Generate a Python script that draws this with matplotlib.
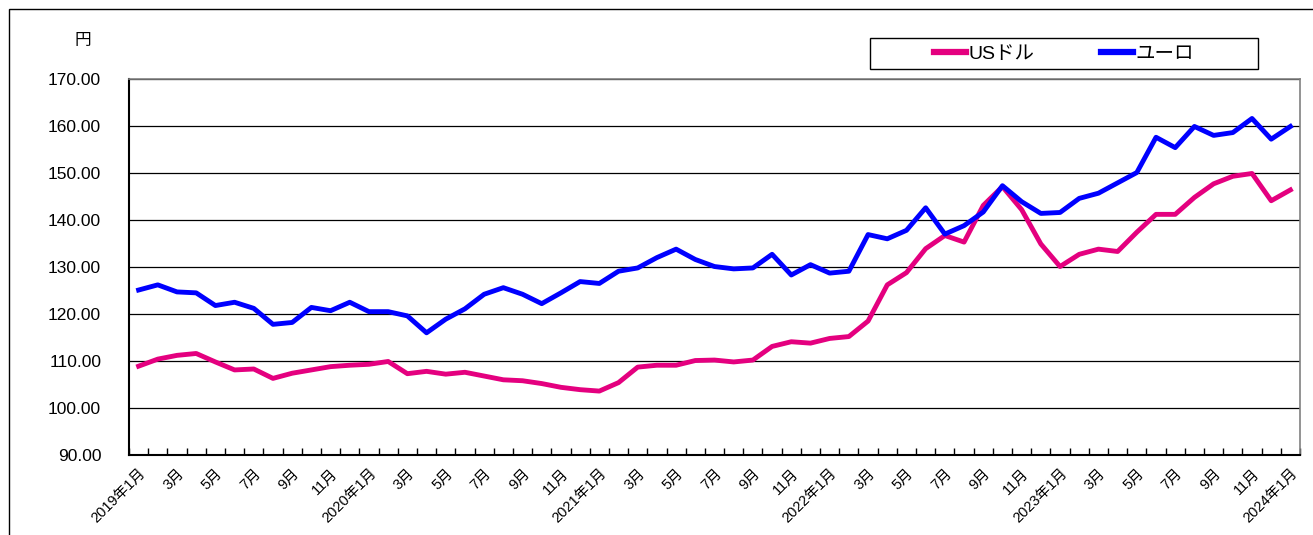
import matplotlib
matplotlib.use("Agg")
import matplotlib.pyplot as plt
from matplotlib.patches import Rectangle
from matplotlib.ticker import FixedLocator, NullFormatter

plt.rcParams['font.family'] = ['Liberation Sans', 'Noto Sans CJK JP']

# monthly values, 2019年1月 .. 2024年1月
usd = [108.9, 110.4, 111.2, 111.6, 109.8, 108.1, 108.3, 106.3, 107.4, 108.1, 108.8, 109.1,
       109.3, 109.9, 107.3, 107.8, 107.2, 107.6, 106.8, 106.0, 105.8, 105.2, 104.4, 103.9,
       103.6, 105.4, 108.7, 109.1, 109.1, 110.1, 110.2, 109.8, 110.2, 113.1, 114.1, 113.8,
       114.8, 115.2, 118.5, 126.2, 128.8, 133.9, 136.7, 135.3, 143.1, 147.1, 142.2, 134.9,
       130.1, 132.7, 133.8, 133.3, 137.4, 141.2, 141.2, 144.8, 147.7, 149.3, 149.9, 144.1,
       146.4]
eur = [125.1, 126.2, 124.7, 124.5, 121.8, 122.5, 121.2, 117.8, 118.2, 121.4, 120.7, 122.5,
       120.5, 120.5, 119.6, 116.0, 118.9, 121.1, 124.2, 125.6, 124.2, 122.2, 124.5, 126.9,
       126.5, 129.1, 129.8, 132.0, 133.8, 131.6, 130.1, 129.6, 129.8, 132.7, 128.3, 130.5,
       128.7, 129.1, 136.9, 136.0, 137.8, 142.6, 137.0, 138.8, 141.7, 147.3, 143.9, 141.4,
       141.6, 144.6, 145.7, 147.9, 150.1, 157.6, 155.4, 159.9, 158.0, 158.6, 161.6, 157.2,
       159.9]

# every second month gets a label
tick_labels = ['2019年1月', '3月', '5月', '7月', '9月', '11月',
               '2020年1月', '3月', '5月', '7月', '9月', '11月',
               '2021年1月', '3月', '5月', '7月', '9月', '11月',
               '2022年1月', '3月', '5月', '7月', '9月', '11月',
               '2023年1月', '3月', '5月', '7月', '9月', '11月',
               '2024年1月']

x = list(range(len(usd)))

fig = plt.figure(figsize=(13.13, 5.35), dpi=100)
ax = fig.add_axes([129/1313, 80/535, 1171/1313, 376/535])

# outer frame of the picture
fig.patches.append(Rectangle((9/1313, -0.1), 1.2, (526/535) + 0.1, transform=fig.transFigure,
                             fill=False, edgecolor='black', linewidth=1.0))

ax.plot(x, usd, color='#E4007F', linewidth=3.5, label='USドル')
ax.plot(x, eur, color='#0000FF', linewidth=3.5, label='ユーロ')

ax.set_ylim(90, 170)
ax.set_yticks([90, 100, 110, 120, 130, 140, 150, 160, 170])
ax.set_yticklabels(['%.2f' % v for v in ax.get_yticks()], fontsize=12.5)
ax.yaxis.grid(True, color='black', linewidth=0.9)
ax.set_axisbelow(True)
ax.tick_params(axis='y', length=0, pad=20)

ax.set_xlim(-0.5, len(usd) - 0.5)
ax.set_xticks(x[::2])
ax.set_xticklabels(tick_labels, rotation=45, ha='right', rotation_mode='anchor', fontsize=10.5)
ax.tick_params(axis='x', which='major', length=0, pad=8)
ax.xaxis.set_minor_locator(FixedLocator([i - 0.5 for i in range(len(usd) + 1)]))
ax.xaxis.set_minor_formatter(NullFormatter())
ax.tick_params(axis='x', which='minor', direction='in', length=5, width=1, color='black')

for s in ['left', 'bottom']:
    ax.spines[s].set_color('black')
    ax.spines[s].set_linewidth(1.5)
for s in ['top', 'right']:
    ax.spines[s].set_color('#808080')
    ax.spines[s].set_linewidth(1.2)

fig.text(83/1313, 1 - 40/535, '円', fontsize=12, ha='center', va='center')

# legend box drawn separately, entries centred in it
fig.patches.append(Rectangle((870/1313, 1 - 69/535), 388/1313, 31/535, transform=fig.transFigure,
                             fill=False, edgecolor='black', linewidth=1.0))
leg = ax.legend(loc='center', bbox_to_anchor=(1064/1313, 1 - 54/535),
                bbox_transform=fig.transFigure, ncol=2, frameon=False,
                fontsize=14, handlelength=1.65, handletextpad=0.15,
                borderpad=0, columnspacing=3.4)
for h in leg.get_lines():
    h.set_linewidth(4.5)

fig.savefig('out.png', dpi=100)
